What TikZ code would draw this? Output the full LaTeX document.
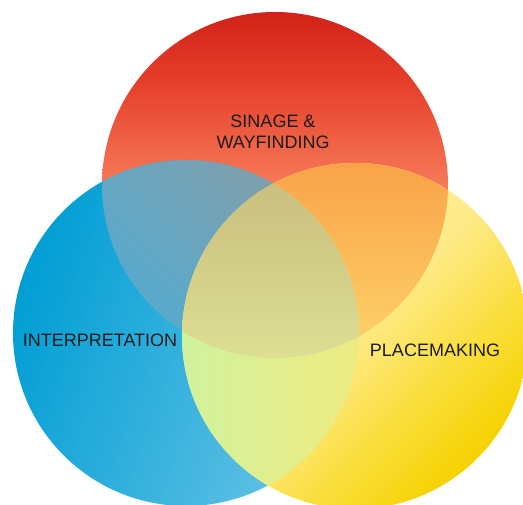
\documentclass[tikz,border=0pt]{standalone}
\usepackage{fontspec}
\setmainfont{Liberation Sans}
\begin{document}
% colours of the three sets and of their overlaps
\definecolor{redTop}{RGB}{210,34,25}
\definecolor{redUp}{RGB}{229,62,42}
\definecolor{redMid}{RGB}{246,122,88}
\definecolor{redBot}{RGB}{252,165,125}
\definecolor{blueDark}{RGB}{0,158,212}
\definecolor{blueLight}{RGB}{104,196,230}
\definecolor{yelLight}{RGB}{255,245,178}
\definecolor{yelMid}{RGB}{254,234,135}
\definecolor{yelWarm}{RGB}{250,222,60}
\definecolor{yelDeep}{RGB}{246,210,0}
\definecolor{rbTop}{RGB}{126,160,174}
\definecolor{rbBot}{RGB}{78,172,212}
\definecolor{ryTop}{RGB}{249,160,70}
\definecolor{ryBot}{RGB}{253,214,108}
\definecolor{byLeft}{RGB}{206,243,158}
\definecolor{byRight}{RGB}{240,234,128}
\definecolor{allTop}{RGB}{200,188,125}
\definecolor{allBot}{RGB}{220,224,148}
\definecolor{ink}{RGB}{28,28,28}
% graded fills for the red and yellow circles
\pgfdeclareverticalshading{redfade}{100bp}{color(0bp)=(redBot); color(25bp)=(redBot);
  color(50bp)=(redMid); color(65bp)=(redUp); color(75bp)=(redTop); color(100bp)=(redTop)}
\pgfdeclareverticalshading{yellowfade}{100bp}{color(0bp)=(yelDeep); color(25bp)=(yelDeep);
  color(37bp)=(yelWarm); color(50bp)=(yelMid); color(75bp)=(yelLight); color(100bp)=(yelLight)}
\begin{tikzpicture}[x=1pt,y=-1pt,
  venntext/.style={font=\fontsize{18}{21}\selectfont, text=ink, align=center, inner sep=0pt}]
\useasboundingbox (0,0) rectangle (523,505);
\fill[white] (0,0) rectangle (523,505);

% centres of the three circles
\coordinate (R) at (275,185);
\coordinate (B) at (186,333);
\coordinate (Y) at (355,336);
\def\rad{173pt}

% single sets
\shade[shading=redfade] (R) circle[radius=\rad];
\shade[top color=blueLight, bottom color=blueDark, shading angle=-110] (B) circle[radius=\rad];
\shade[shading=yellowfade, shading angle=45] (Y) circle[radius=\rad];

% red and blue
\begin{scope}
  \clip (R) circle[radius=\rad];
  \clip (B) circle[radius=\rad];
  \shade[top color=rbTop, bottom color=rbBot, shading angle=-45] (85,150) rectangle (290,365);
\end{scope}
% red and yellow
\begin{scope}
  \clip (R) circle[radius=\rad];
  \clip (Y) circle[radius=\rad];
  \shade[top color=ryTop, bottom color=ryBot] (175,150) rectangle (455,365);
\end{scope}
% blue and yellow
\begin{scope}
  \clip (B) circle[radius=\rad];
  \clip (Y) circle[radius=\rad];
  \shade[left color=byLeft, right color=byRight] (175,170) rectangle (365,510);
\end{scope}
% all three
\begin{scope}
  \clip (R) circle[radius=\rad];
  \clip (B) circle[radius=\rad];
  \clip (Y) circle[radius=\rad];
  \shade[top color=allTop, bottom color=allBot] (175,170) rectangle (365,365);
\end{scope}

% set names
\node[venntext] (sw) at (273,132) {SINAGE \&\\WAYFINDING};
\node[venntext] (ip) at (100,340) {INTERPRETATION};
\node[venntext] (pm) at (435,350) {PLACEMAKING};
\end{tikzpicture}
\end{document}
